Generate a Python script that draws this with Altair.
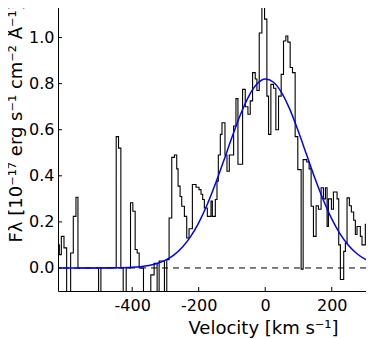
import altair as alt
import pandas as pd

# Observed spectrum (step, bin start velocity in km/s, flux)
velocity = [-630, -619, -613, -605, -597, -585, -577, -569, -563, -501,
            -494, -448, -441, -434, -427, -418, -405, -398, -391, -385,
            -379, -366, -344, -334, -325, -319, -303, -296, -289, -281,
            -273, -266, -262, -256, -251, -243, -236, -229, -219, -208,
            -199, -193, -188, -183, -174, -163, -159, -150, -145, -141,
            -135, -130, -121, -115, -108, -95, -88, -82, -68, -60,
            -52, -45, -38, -30, -25, -18, -10, -2, 5, 10,
            17, 25, 32, 40, 48, 55, 62, 68, 75, 82,
            90, 98, 108, 114, 125, 132, 138, 145, 153, 160,
            168, 175, 181, 186, 190, 199, 205, 216, 221, 226,
            236, 241, 246, 253, 259, 266, 271, 276, 286, 291,
            301, 309, 316, 323, 330]
flux = [0.101, 0.058, 0.137, 0.087, -0.2, 0.065, 0.224, 0.307, 0.0, -0.2,
        0.0, 0.57, 0.52, 0.0, -0.2, 0.0, 0.283, 0.246, 0.08, 0.065,
        0.0, -0.15, -0.03, 0.02, -0.2, 0.03, -0.2, 0.036, 0.217, 0.48,
        0.49, 0.43, 0.355, 0.31, 0.268, 0.224, 0.13, 0.17, 0.362, 0.35,
        0.34, 0.32, 0.297, 0.26, 0.224, 0.29, 0.224, 0.297, 0.377, 0.49,
        0.58, 0.63, 0.49, 0.42, 0.49, 0.616, 0.735, 0.45, 0.775, 0.70,
        0.667, 0.725, 0.848, 0.82, 0.77, 1.02, 1.25, 1.08, 0.746, 0.58,
        0.797, 0.78, 0.60, 0.746, 0.84, 0.985, 1.007, 0.98, 0.87, 0.848,
        0.57, 0.427, -0.005, 0.47, 0.46, 0.43, 0.268, 0.137, 0.27, 0.255,
        0.348, 0.30, 0.348, 0.18, 0.30, 0.255, 0.33, 0.30, 0.10, -0.05,
        0.072, 0.108, 0.304, 0.27, 0.243, 0.207, 0.145, 0.18, 0.137, 0.10,
        0.19, 0.12, 0.16, 0.24, 0.24]

# Fitted profile
fit_velocity = [-625, -550, -500, -450, -400, -375, -350, -325, -300, -275,
                -250, -225, -200, -175, -150, -125, -100, -75, -50, -25,
                0, 25, 50, 75, 100, 125, 150, 175, 200, 225,
                250, 275, 300, 325, 330]
fit_flux = [0.0, 0.0, 0.0001, 0.0007, 0.0029, 0.0057, 0.0108, 0.0195, 0.0338, 0.056,
            0.089, 0.135, 0.196, 0.273, 0.364, 0.464, 0.567, 0.664, 0.744, 0.798,
            0.82, 0.806, 0.759, 0.685, 0.591, 0.489, 0.387, 0.294, 0.213, 0.148,
            0.0987, 0.0628, 0.0383, 0.0224, 0.020]

x_ticks = [-400, -200, 0, 200]
y_ticks = [0.0, 0.2, 0.4, 0.6, 0.8, 1.0]

W, H = 308, 291
FONT = "DejaVu Sans"

spec_df = pd.DataFrame({"v": velocity, "f": flux})
fit_df = pd.DataFrame({"v": fit_velocity, "f": fit_flux})
zero_df = pd.DataFrame({"f": [0.0]})
xt_df = pd.DataFrame({"v": x_ticks})
yt_df = pd.DataFrame({"f": y_ticks})

xs = alt.Scale(domain=[-623, 303], nice=False, zero=False)
ys = alt.Scale(domain=[-0.1, 1.163], nice=False, zero=False)

x_axis = alt.Axis(
    values=x_ticks, labelExpr="'' + datum.value", ticks=False, tickSize=0,
    grid=False, domainColor="black", domainWidth=1, labelFont=FONT,
    labelFontSize=16, labelColor="black", labelPadding=6,
    title="Velocity  [km s⁻¹]", titleFont=FONT, titleFontSize=18,
    titleFontWeight="normal", titleColor="black", titleX=205, titleY=42,
    titleAlign="center", titleBaseline="alphabetic")
y_axis = alt.Axis(
    values=y_ticks, format=".1f", ticks=False, tickSize=0, grid=False,
    domainColor="black", domainWidth=1, labelFont=FONT, labelFontSize=16,
    labelColor="black", labelPadding=4,
    title="Fλ  [10⁻¹⁷ erg s⁻¹ cm⁻² Å⁻¹]", titleFont=FONT, titleFontSize=18,
    titleFontWeight="normal", titleColor="black", titleAngle=270,
    titleX=-42, titleY=242, titleAlign="left", titleBaseline="middle")

X = alt.X("v:Q", scale=xs, axis=x_axis)
Y = alt.Y("f:Q", scale=ys, axis=y_axis)

spectrum = alt.Chart(spec_df).mark_line(
    interpolate="step-after", color="black", strokeWidth=1.1, clip=True
).encode(x=X, y=Y)

zero = alt.Chart(zero_df).mark_rule(
    color="black", strokeWidth=1, strokeDash=[6, 5]
).encode(y=Y)

fit = alt.Chart(fit_df).mark_line(
    interpolate="monotone", color="#0000ff", strokeWidth=1.5, clip=True
).encode(x=X, y=Y)

yticks = alt.Chart(yt_df).mark_rule(color="black", strokeWidth=1).encode(
    y=Y, x=alt.value(0), x2=alt.value(4))

xticks = alt.Chart(xt_df).mark_rule(color="black", strokeWidth=1).encode(
    x=X, y=alt.value(H), y2=alt.value(H - 4))

chart = alt.layer(zero, spectrum, fit, yticks, xticks).properties(
    width=W, height=H,
    padding={"left": 50, "top": -8, "right": 0, "bottom": 48},
    autosize=alt.AutoSizeParams(type="none"),
).configure_view(stroke=None)

chart.save("out.html", embed_options={"renderer": "svg", "actions": False})
